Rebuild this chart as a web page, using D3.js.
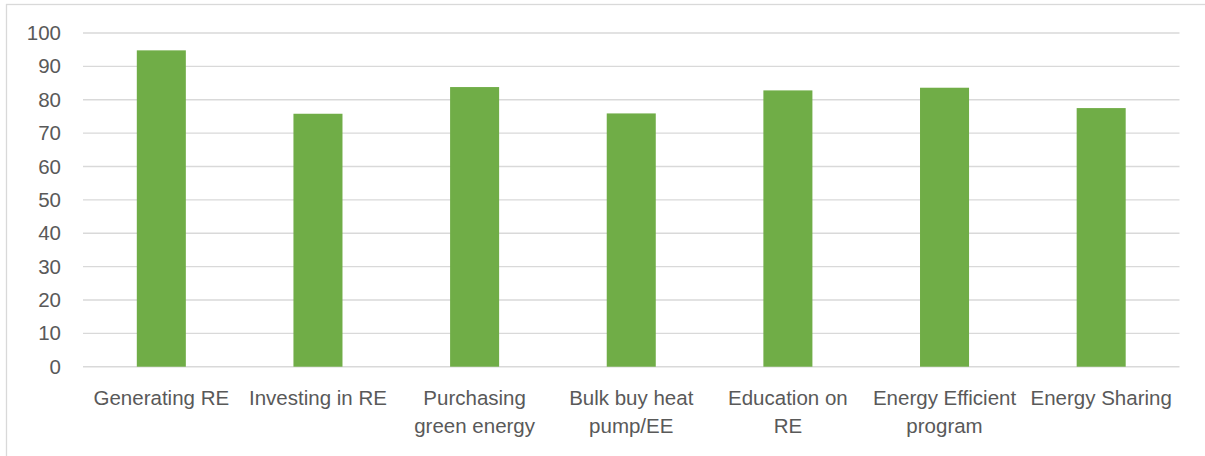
<!DOCTYPE html>
<html>
<head>
<meta charset="utf-8">
<script src="https://cdn.jsdelivr.net/npm/d3@7"></script>
<style>
  html, body { margin: 0; padding: 0; background: #fff; }
  svg { display: block; }
  text { font-family: "Liberation Sans", Arial, sans-serif; fill: #595959; }
</style>
</head>
<body>
<svg id="chart" width="1205" height="456"></svg>
<script>
// Share of respondents interested in each community energy activity (%)
const categories = [
  "Generating RE",
  "Investing in RE",
  "Purchasing green energy",
  "Bulk buy heat pump/EE",
  "Education on RE",
  "Energy Efficient program",
  "Energy Sharing"
];
const categoryLines = [
  ["Generating RE"],
  ["Investing in RE"],
  ["Purchasing", "green energy"],
  ["Bulk buy heat", "pump/EE"],
  ["Education on", "RE"],
  ["Energy Efficient", "program"],
  ["Energy Sharing"]
];
const values = [94.8, 75.8, 83.8, 75.9, 82.8, 83.6, 77.5];
const yTicks = [0, 10, 20, 30, 40, 50, 60, 70, 80, 90, 100];

const svg = d3.select("#chart");
const W = 1205, H = 456;
const plot = { left: 83, right: 1179.5, top: 33, bottom: 366.7 };
const fontSize = 20.5;

// outer chart frame
svg.append("rect")
  .attr("x", 6.5).attr("y", 4.5)
  .attr("width", W + 10).attr("height", H + 10)
  .attr("fill", "none").attr("stroke", "#d9d9d9").attr("stroke-width", 1.3);

const x = d3.scaleBand()
  .domain(categories)
  .range([plot.left, plot.right])
  .paddingInner(0.687)
  .paddingOuter(0.3435);

const y = d3.scaleLinear()
  .domain([0, 100])
  .range([plot.bottom, plot.top]);

// horizontal gridlines
svg.append("g")
  .selectAll("line")
  .data(yTicks)
  .join("line")
  .attr("x1", plot.left).attr("x2", plot.right)
  .attr("y1", d => y(d)).attr("y2", d => y(d))
  .attr("stroke", "#d9d9d9").attr("stroke-width", 1.4);

// y-axis tick labels
const yAxis = d3.axisLeft(y).tickValues(yTicks).tickSize(0).tickPadding(0);
const gy = svg.append("g")
  .attr("transform", `translate(${61},0)`)
  .call(yAxis);
gy.select(".domain").remove();
gy.selectAll("text")
  .attr("font-size", fontSize)
  .attr("fill", "#595959")
  .style("font-family", '"Liberation Sans", Arial, sans-serif');

// bars
svg.append("g")
  .selectAll("rect")
  .data(values)
  .join("rect")
  .attr("x", (d, i) => x(categories[i]))
  .attr("width", x.bandwidth())
  .attr("y", d => y(d))
  .attr("height", d => y(0) - y(d))
  .attr("fill", "#70ad47");

// category labels, wrapped onto two lines where needed
const labels = svg.append("g")
  .selectAll("text")
  .data(categories)
  .join("text")
  .attr("text-anchor", "middle")
  .attr("font-size", fontSize)
  .attr("transform", d => `translate(${x(d) + x.bandwidth() / 2},405)`);
labels.each(function(d, i) {
  d3.select(this).selectAll("tspan")
    .data(categoryLines[i])
    .join("tspan")
    .attr("x", 0)
    .attr("dy", (t, j) => j === 0 ? 0 : 28.3)
    .text(t => t);
});
</script>
</body>
</html>
